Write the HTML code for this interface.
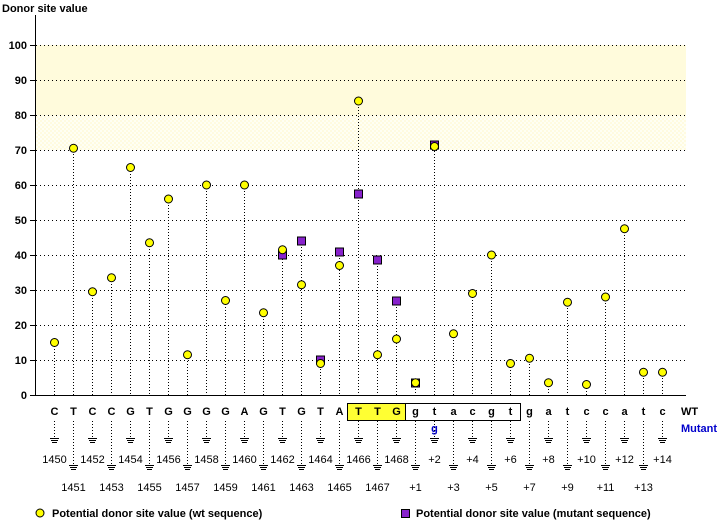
<!DOCTYPE html>
<html><head><meta charset="utf-8"><style>body{margin:0;background:#fff}svg{display:block}</style></head>
<body>
<svg id="s" width="720" height="520" xmlns="http://www.w3.org/2000/svg" font-family="Liberation Sans, sans-serif">
<defs><pattern id="h" width="4" height="4" patternUnits="userSpaceOnUse"><rect width="4" height="4" fill="#fffff4"/><rect width="2" height="2" fill="#fffbe0"/><rect x="2" y="2" width="2" height="2" fill="#fffbe0"/></pattern></defs>
<rect x="36" y="45" width="650" height="70" fill="#fffbdc"/>
<rect x="36" y="115" width="650" height="35" fill="url(#h)"/>
<text x="2" y="12" font-size="11" font-weight="bold">Donor site value</text>
<line x1="35.5" y1="15" x2="35.5" y2="395" stroke="#000"/>
<rect x="347.5" y="403.5" width="58" height="17" fill="#ffff33" stroke="#000"/>
<rect x="405.5" y="403.5" width="115" height="17" fill="#fff" stroke="#000"/>
<g id="g"></g>
<line x1="30" y1="395.5" x2="686" y2="395.5" stroke="#000"/>
<text x="681" y="415" font-size="11" font-weight="bold">WT</text>
<text x="681" y="432" font-size="11" font-weight="bold" fill="#0000cc">Mutant</text>
<circle cx="40" cy="513" r="4" fill="#ffff00" stroke="#000"/>
<text x="52" y="517" font-size="11" font-weight="bold">Potential donor site value (wt sequence)</text>
<rect x="401.5" y="509.5" width="8" height="8" fill="#8822cc" stroke="#000"/>
<text x="416" y="517" font-size="11" font-weight="bold">Potential donor site value (mutant sequence)</text>
</svg>
<script>
var g=document.getElementById('g'),h='';
for(var v=10;v<=100;v+=10){var y=395-v*3.5;h+='<line x1="36" y1="'+(y+.5)+'" x2="686" y2="'+(y+.5)+'" stroke="#000" stroke-dasharray="1,3"/><line x1="30" y1="'+(y+.5)+'" x2="36" y2="'+(y+.5)+'" stroke="#000"/><text x="27" y="'+(y+4)+'" font-size="11" font-weight="bold" text-anchor="end">'+v+'</text>';}
h+='<text x="27" y="399" font-size="11" font-weight="bold" text-anchor="end">0</text>';
var L="CTCCGTGGGGAGTGTATTGgtacgtgatccatc".split('');
var W=[15,70.5,29.5,33.5,65,43.5,56,11.5,60,27,60,23.5,41.5,31.5,9,37,84,11.5,16,3.5,71,17.5,29,40,9,10.5,3.5,26.5,3,28,47.5,6.5,6.5];
var M={12:40,13:44,14:10,15:41,16:57.5,17:38.5,18:27,19:3.5,20:71.5};
var mk='';
for(var i=0;i<33;i++){var x=54+i*19+.5;
var ty=395-W[i]*3.5; if(M[i]!==undefined) ty=Math.min(ty,395-M[i]*3.5);
h+='<line x1="'+x+'" y1="'+Math.round(ty)+'" x2="'+x+'" y2="395" stroke="#000" stroke-dasharray="1,2"/>';
h+='<text x="'+x+'" y="415" font-size="11" font-weight="bold" text-anchor="middle">'+L[i]+'</text>';
var gy=i%2?465:438;
h+='<line x1="'+x+'" y1="421" x2="'+x+'" y2="'+gy+'" stroke="#000" stroke-dasharray="1,2"/>';
h+='<line x1="'+(x-4.5)+'" y1="'+(gy+.5)+'" x2="'+(x+4.5)+'" y2="'+(gy+.5)+'" stroke="#000"/><line x1="'+(x-3.5)+'" y1="'+(gy+2.5)+'" x2="'+(x+3.5)+'" y2="'+(gy+2.5)+'" stroke="#000"/><line x1="'+(x-2.5)+'" y1="'+(gy+4.5)+'" x2="'+(x+2.5)+'" y2="'+(gy+4.5)+'" stroke="#000"/>';
var lab=i<19?(1450+i):('+'+(i-18));
h+='<text x="'+x+'" y="'+(i%2?491:463)+'" font-size="11" text-anchor="middle">'+lab+'</text>';
if(M[i]!==undefined){var my=Math.round(395-M[i]*3.5);mk+='<rect x="'+(x-4)+'" y="'+(my-4)+'" width="8" height="8" fill="#8822cc" stroke="#000"/>';}
mk+='<circle cx="'+x+'" cy="'+(395-W[i]*3.5)+'" r="4" fill="#ffff00" stroke="#000"/>';
}
h+=mk;
h+='<text x="434.5" y="432" font-size="11" font-weight="bold" fill="#0000cc" text-anchor="middle">g</text>';
g.innerHTML=h;
</script>
</body></html>
